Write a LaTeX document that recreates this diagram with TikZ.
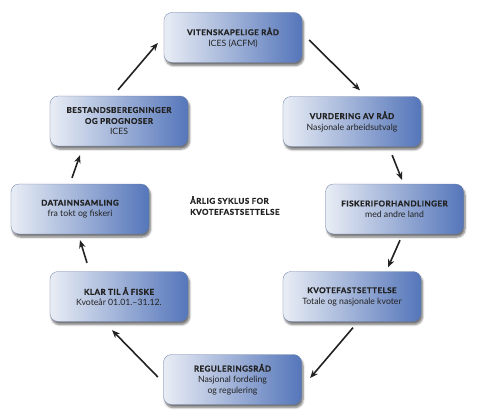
\documentclass[tikz,border=0pt]{standalone}
\usepackage{fontspec}
\setmainfont{Lato}
\newfontfamily\titlefont[LetterSpace=6, BoldFeatures={FakeBold=1.2}]{Lato}
\usetikzlibrary{shadows.blur,arrows.meta}
\definecolor{boxL}{HTML}{E9EDF5}
\definecolor{boxM}{HTML}{C3CFE6}
\definecolor{boxR}{HTML}{5576BA}
\definecolor{ink}{HTML}{222222}
\tikzset{
  stage/.style={rounded corners=8pt, minimum width=138pt, minimum height=50pt,
    left color=boxL, middle color=boxM, right color=boxR, draw=boxR!60!gray, line width=0.3pt,
    blur shadow={shadow xshift=1.5pt, shadow yshift=-3pt, shadow opacity=55, shadow blur steps=6},
    align=center, text=ink, inner sep=0pt},
  flow/.style={-{Stealth[length=8pt,width=6.5pt]}, line width=1.6pt, draw=ink},
}
\newcommand{\ttl}[1]{{\titlefont\bfseries\fontsize{8}{11.5}\selectfont #1}}
\newcommand{\sub}[1]{{\fontsize{8.7}{11.5}\selectfont #1}}
\begin{document}
\begin{tikzpicture}[x=1pt,y=-1pt]
\useasboundingbox (0,0) rectangle (500,412);
\node[stage] (vit) at (233,37.5) {\ttl{VITENSKAPELIGE RÅD}\\[-1pt]\sub{ICES (ACFM)}};
\node[stage] (vurd) at (352,121.5) {\ttl{VURDERING AV RÅD}\\[-1pt]\sub{Nasjonale arbeidsutvalg}};
\node[stage] (fisk) at (394.5,209) {\ttl{FISKERIFORHANDLINGER}\\[-1pt]\sub{med andre land}};
\node[stage] (kvote) at (352,296.5) {\ttl{KVOTEFASTSETTELSE}\\[-1pt]\sub{Totale og nasjonale kvoter}};
\node[stage] (regul) at (232.5,379.5) {\ttl{REGULERINGSRÅD}\\[-1pt]\sub{Nasjonal fordeling}\\[-1pt]\sub{og regulering}};
\node[stage] (klar) at (119,296.5) {\ttl{KLAR TIL Å FISKE}\\[-1pt]\sub{Kvoteår 01.01.–31.12.}};
\node[stage] (data) at (80,209) {\ttl{DATAINNSAMLING}\\[-1pt]\sub{fra tokt og fiskeri}};
\node[stage] (best) at (119,121) {\ttl{BESTANDSBEREGNINGER}\\[-1pt]\ttl{OG PROGNOSER}\\[-1pt]\sub{ICES}};
\node[anchor=north west, align=left, inner sep=0pt, text=ink] (title) at (190,196)
  {\ttl{ÅRLIG SYKLUS FOR}\\[-1pt]\ttl{KVOTEFASTSETTELSE}};
\draw[flow] ([shift={(7,2.5)}]vit.east) -- ([shift={(8,-6)}]vurd.north);
\draw[flow] ([shift={(-29,8.5)}]vurd.south east) -- ([shift={(7.5,-4)}]fisk.north);
\draw[flow] ([shift={(5.5,6)}]fisk.south) -- ([shift={(36,-4)}]kvote.north);
\draw[flow] ([shift={(1,6)}]kvote.south) -- ([shift={(8.5,-1.5)}]regul.east);
\draw[flow] ([shift={(-5.5,-2.5)}]regul.west) -- ([shift={(-7,8.5)}]klar.south);
\draw[flow] ([shift={(-32,-8.5)}]klar.north) -- ([shift={(0,6)}]data.south);
\draw[flow] ([shift={(-8,-6)}]data.north) -- ([shift={(-39,9)}]best.south);
\draw[flow] ([shift={(-1,-6)}]best.north) -- ([shift={(-6,5.5)}]vit.west);
\end{tikzpicture}
\end{document}
